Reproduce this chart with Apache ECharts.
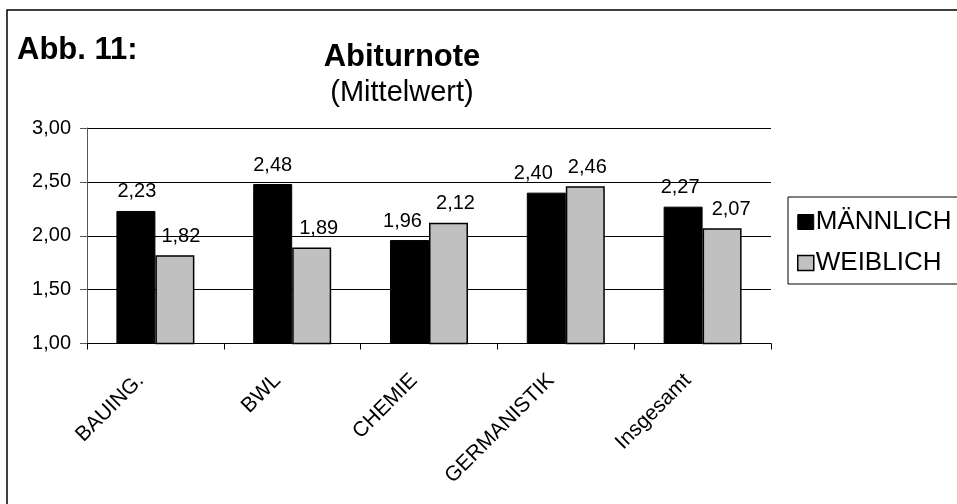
<!DOCTYPE html>
<html>
<head>
<meta charset="utf-8">
<script src="https://cdn.jsdelivr.net/npm/echarts@6/dist/echarts.min.js"></script>
<style>
  html, body { margin: 0; padding: 0; background: #fff; }
  #chart { width: 957px; height: 504px; }
</style>
</head>
<body>
<div id="chart"></div>
<script>
// Abiturnote (Mittelwert) nach Studienfach und Geschlecht
const categories = ['BAUING.', 'BWL', 'CHEMIE', 'GERMANISTIK', 'Insgesamt'];
const maennlich = [2.23, 2.48, 1.96, 2.40, 2.27];
const weiblich = [1.82, 1.89, 2.12, 2.46, 2.07];
const seriesNames = ['MÄNNLICH', 'WEIBLICH'];
const yTicks = { min: 1, max: 3, step: 0.5 };

// horizontal nudges (px) for value labels so neighbouring labels do not collide
const nudgeM = [1, 0, -7, -13, -3];
const nudgeW = [6, 7, 7, 2, 9];

const FONT = '"Liberation Sans", Arial, sans-serif';
const fmt = v => v.toFixed(2).replace('.', ',');

const chart = echarts.init(document.getElementById('chart'), null, { renderer: 'canvas' });

const labelStyle = {
  show: true,
  position: 'top',
  distance: 9,
  color: '#000',
  fontFamily: FONT,
  fontSize: 20,
  formatter: p => fmt(p.value)
};

const withNudge = (values, nudges) =>
  values.map((v, i) => ({ value: v, label: { offset: [nudges[i], 0] } }));

chart.setOption({
  animation: false,
  backgroundColor: '#fff',
  textStyle: { fontFamily: FONT, color: '#000' },
  graphic: [{
    type: 'rect',
    shape: { x: 7, y: 10, width: 1000, height: 600 },
    style: { fill: 'none', stroke: '#000', lineWidth: 1.5 },
    silent: true
  }],
  title: [
    {
      text: 'Abb. 11:',
      left: 17,
      top: 35,
      padding: 0,
      textStyle: { fontFamily: FONT, fontSize: 31, fontWeight: 'bold', color: '#000' }
    },
    {
      text: 'Abiturnote',
      subtext: '(Mittelwert)',
      left: 402,
      textAlign: 'center',
      top: 42,
      padding: 0,
      itemGap: 5,
      textStyle: { fontFamily: FONT, fontSize: 31, fontWeight: 'bold', color: '#000', lineHeight: 30 },
      subtextStyle: { fontFamily: FONT, fontSize: 29, color: '#000', lineHeight: 30 }
    }
  ],
  legend: {
    orient: 'vertical',
    left: 788,
    top: 197,
    padding: [12, 20, 8, 9],
    borderColor: '#000',
    borderWidth: 1,
    itemWidth: 16,
    itemHeight: 15,
    itemGap: 15,
    icon: 'rect',
    textStyle: { fontFamily: FONT, fontSize: 26, color: '#000', lineHeight: 24, padding: [0, 0, 0, -3] },
    data: [
      { name: seriesNames[0], itemStyle: { color: '#000', borderColor: '#000', borderWidth: 1 } },
      { name: seriesNames[1], itemStyle: { color: '#c0c0c0', borderColor: '#000', borderWidth: 1.5 } }
    ]
  },
  grid: { left: 87, right: 186, top: 128, bottom: 160.5, containLabel: false },
  xAxis: {
    type: 'category',
    data: categories,
    boundaryGap: true,
    axisLine: { show: true, lineStyle: { color: '#000', width: 1 } },
    axisTick: { show: true, alignWithLabel: false, length: 6, lineStyle: { color: '#000' } },
    axisLabel: {
      rotate: 45,
      margin: 19,
      interval: 0,
      fontFamily: FONT,
      fontSize: 21,
      color: '#000',
      // trailing padding pulls each rotated label back from its tick centre
      formatter: v => '{c|' + v + '}',
      rich: {
        c: { fontFamily: FONT, fontSize: 21, color: '#000', padding: [0, 21, 0, 0] }
      }
    },
    splitLine: { show: false }
  },
  yAxis: {
    type: 'value',
    min: yTicks.min,
    max: yTicks.max,
    interval: yTicks.step,
    axisLine: { show: true, lineStyle: { color: '#555', width: 1 } },
    axisTick: { show: true, length: 7, lineStyle: { color: '#555' } },
    axisLabel: {
      margin: 16,
      fontFamily: FONT,
      fontSize: 20,
      color: '#000',
      formatter: v => fmt(v)
    },
    splitLine: { show: true, lineStyle: { color: '#000', width: 1 } }
  },
  series: [
    {
      name: seriesNames[0],
      type: 'bar',
      data: withNudge(maennlich, nudgeM),
      barGap: '0%',
      barCategoryGap: '43%',
      itemStyle: { color: '#000', borderColor: '#000', borderWidth: 1 },
      label: labelStyle
    },
    {
      name: seriesNames[1],
      type: 'bar',
      data: withNudge(weiblich, nudgeW),
      itemStyle: { color: '#c0c0c0', borderColor: '#000', borderWidth: 1.5 },
      label: labelStyle
    }
  ]
});
</script>
</body>
</html>
